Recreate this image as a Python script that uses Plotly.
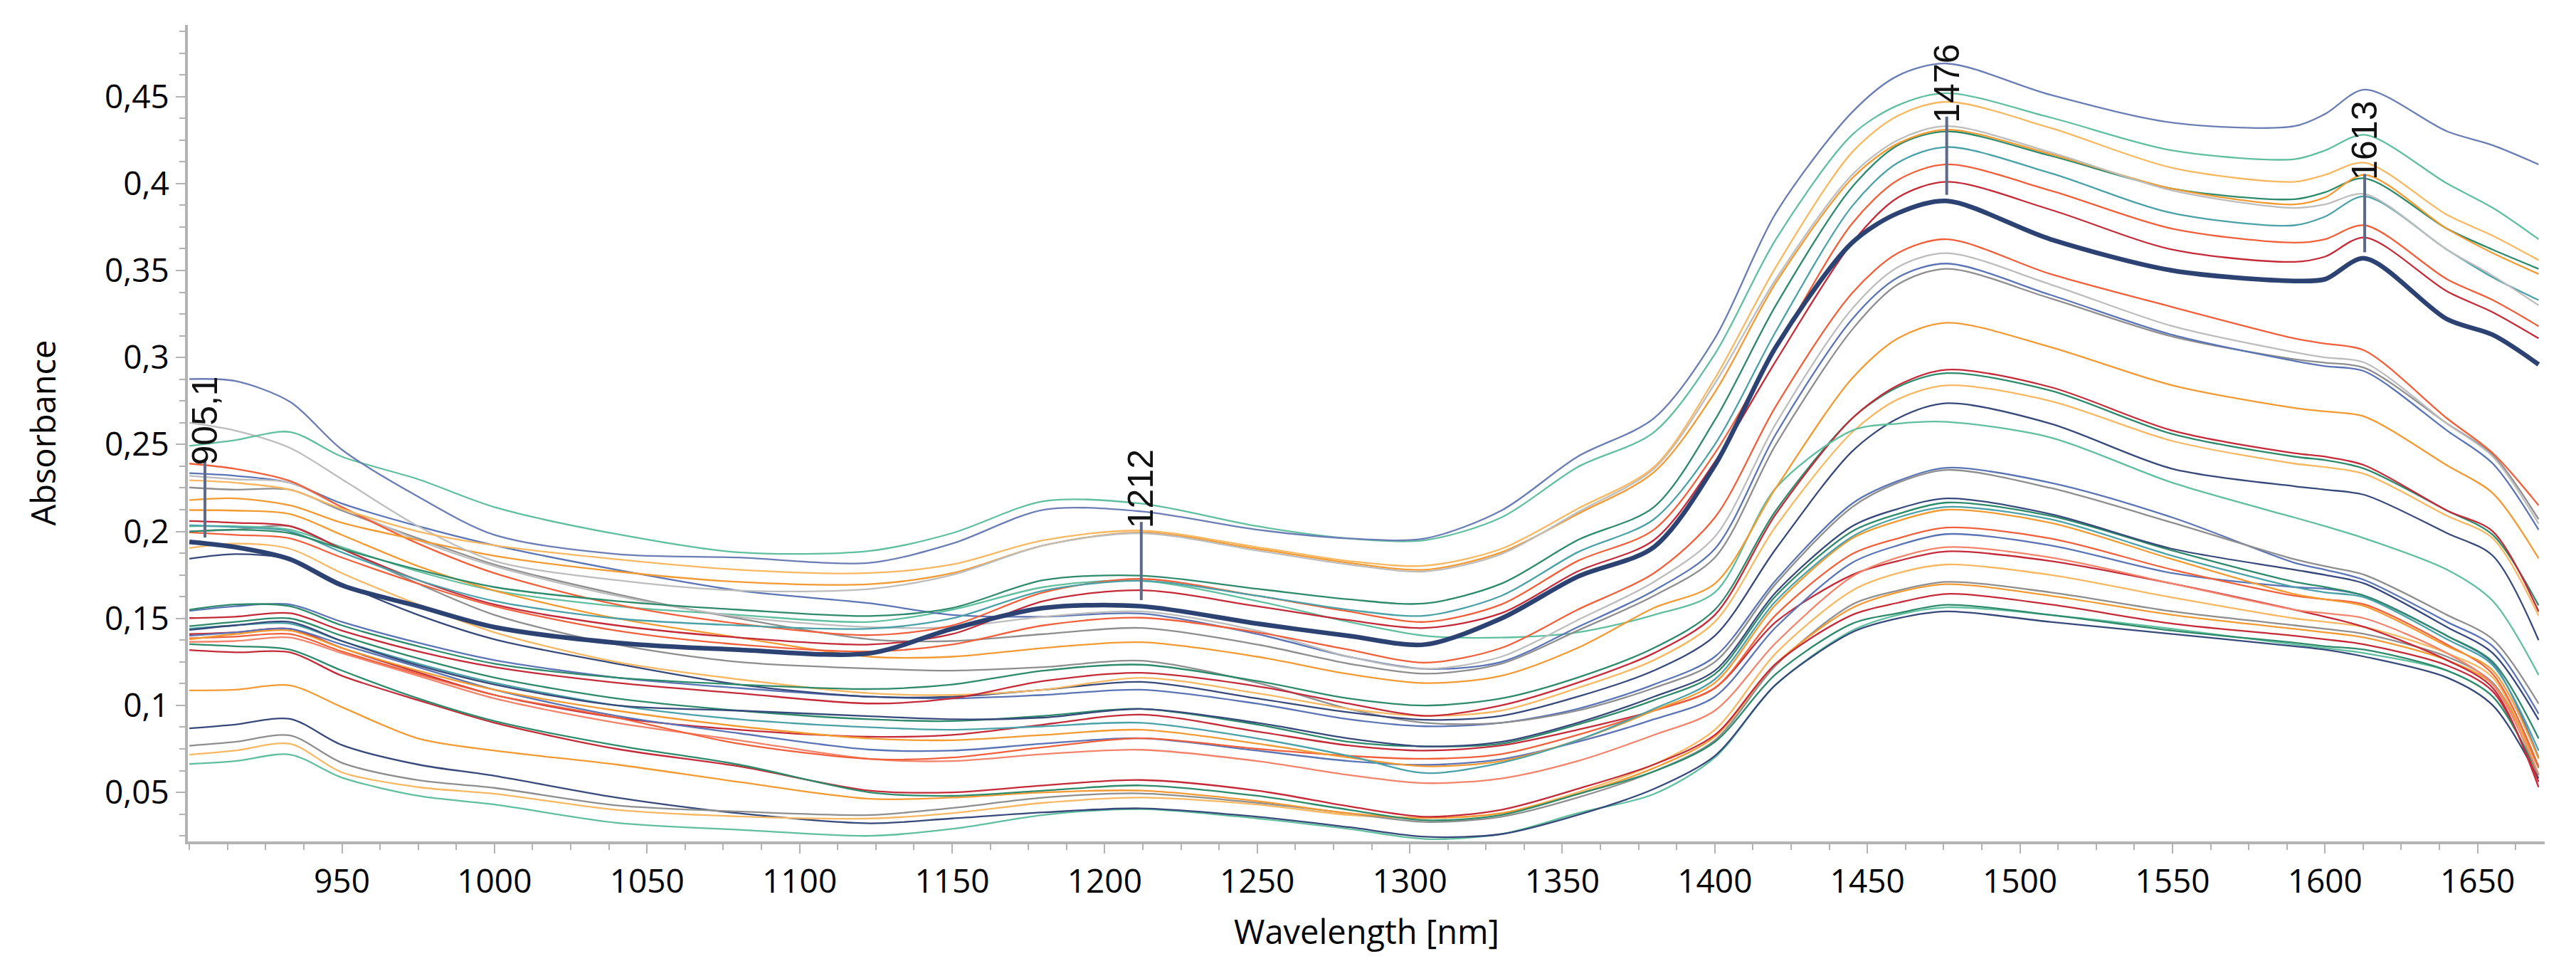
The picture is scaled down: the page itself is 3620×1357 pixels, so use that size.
import numpy as np
import plotly.graph_objects as go

# ---------------- data ----------------
WAVELENGTH_NM = [900, 915, 933, 950, 975, 1000, 1040, 1080, 1123, 1150, 1180, 1212, 1250, 1280, 1305,
                 1330, 1355, 1380, 1400, 1420, 1445, 1460, 1476, 1510, 1550, 1590, 1600, 1613, 1640, 1655, 1670]

# upper spectra (band at 1613 nm)
U1 = [0.2876, 0.2865, 0.2745, 0.247, 0.220, 0.198, 0.187, 0.185, 0.182, 0.193, 0.2125, 0.2115, 0.201, 0.196, 0.196,
      0.212, 0.243, 0.265, 0.311, 0.383, 0.441, 0.462, 0.469, 0.451, 0.435, 0.433, 0.440, 0.454, 0.430, 0.422, 0.411]
U2 = [0.2492, 0.2525, 0.2572, 0.243, 0.230, 0.214, 0.1985, 0.188, 0.1888, 0.199, 0.2174, 0.216, 0.203, 0.196, 0.195,
      0.208, 0.237, 0.257, 0.302, 0.368, 0.428, 0.445, 0.452, 0.438, 0.419, 0.414, 0.419, 0.428, 0.400, 0.386, 0.368]
U3 = [0.2294, 0.228, 0.224, 0.213, 0.200, 0.192, 0.184, 0.178, 0.1761, 0.181, 0.195, 0.2005, 0.191, 0.183, 0.1803,
      0.19, 0.213, 0.237, 0.288, 0.352, 0.418, 0.439, 0.447, 0.432, 0.409, 0.401, 0.405, 0.412, 0.382, 0.370, 0.356]
U4 = [0.2625, 0.258, 0.248, 0.230, 0.203, 0.183, 0.172, 0.166, 0.1669, 0.175, 0.192, 0.199, 0.189, 0.181, 0.177,
      0.187, 0.211, 0.236, 0.285, 0.345, 0.405, 0.425, 0.433, 0.418, 0.396, 0.386, 0.388, 0.394, 0.362, 0.347, 0.330]
U5 = [0.200, 0.201, 0.199, 0.190, 0.178, 0.168, 0.160, 0.155, 0.1514, 0.156, 0.172, 0.1746, 0.167, 0.161, 0.1586,
      0.17, 0.195, 0.214, 0.264, 0.33, 0.398, 0.422, 0.430, 0.416, 0.397, 0.391, 0.395, 0.403, 0.374, 0.362, 0.351]
U6 = [0.2035, 0.2025, 0.200, 0.188, 0.172, 0.160, 0.150, 0.146, 0.1441, 0.150, 0.166, 0.1716, 0.163, 0.155, 0.1516,
      0.163, 0.188, 0.207, 0.250, 0.315, 0.387, 0.412, 0.421, 0.406, 0.383, 0.376, 0.381, 0.3926, 0.362, 0.346, 0.333]
U7 = [0.239, 0.236, 0.229, 0.214, 0.193, 0.176, 0.158, 0.147, 0.1404, 0.146, 0.165, 0.1727, 0.163, 0.154, 0.148,
      0.158, 0.183, 0.201, 0.245, 0.305, 0.377, 0.402, 0.411, 0.396, 0.374, 0.366, 0.368, 0.376, 0.345, 0.333, 0.318]
U8 = [0.206, 0.205, 0.203, 0.190, 0.172, 0.158, 0.146, 0.139, 0.135, 0.141, 0.160, 0.1662, 0.157, 0.149, 0.1445,
      0.153, 0.177, 0.195, 0.240, 0.298, 0.366, 0.392, 0.401, 0.385, 0.362, 0.355, 0.358, 0.369, 0.338, 0.326, 0.311]
U10 = [0.218, 0.219, 0.215, 0.205, 0.195, 0.186, 0.177, 0.171, 0.1697, 0.176, 0.192, 0.1995, 0.190, 0.182, 0.178,
       0.188, 0.21, 0.234, 0.280, 0.343, 0.403, 0.423, 0.431, 0.417, 0.397, 0.388, 0.392, 0.405, 0.374, 0.360, 0.348]
# highlighted (bold) spectrum
BOLD = [0.194, 0.191, 0.184, 0.169, 0.157, 0.145, 0.136, 0.132, 0.130, 0.144, 0.156, 0.157, 0.147, 0.140, 0.135,
        0.150, 0.174, 0.191, 0.238, 0.306, 0.366, 0.383, 0.390, 0.368, 0.350, 0.344, 0.345, 0.357, 0.322, 0.313, 0.296]

# middle spectra
M1 = [0.1995, 0.198, 0.196, 0.185, 0.170, 0.157, 0.143, 0.135, 0.131, 0.135, 0.146, 0.1504, 0.142, 0.132, 0.1246,
      0.133, 0.155, 0.176, 0.208, 0.272, 0.337, 0.360, 0.368, 0.348, 0.329, 0.311, 0.308, 0.304, 0.265, 0.245, 0.215]
M2 = [0.232, 0.230, 0.228, 0.214, 0.195, 0.180, 0.163, 0.151, 0.145, 0.145, 0.151, 0.154, 0.143, 0.128, 0.121,
      0.128, 0.149, 0.171, 0.197, 0.262, 0.328, 0.352, 0.360, 0.342, 0.318, 0.303, 0.300, 0.297, 0.262, 0.243, 0.2045]
M3 = [0.2335, 0.232, 0.228, 0.216, 0.203, 0.192, 0.178, 0.166, 0.1587, 0.152, 0.151, 0.1528, 0.141, 0.128, 0.121,
      0.125, 0.145, 0.166, 0.190, 0.256, 0.322, 0.346, 0.354, 0.336, 0.313, 0.298, 0.295, 0.292, 0.258, 0.239, 0.201]
M4 = [0.2253, 0.224, 0.224, 0.212, 0.196, 0.181, 0.164, 0.150, 0.138, 0.137, 0.141, 0.1445, 0.135, 0.124, 0.1182,
      0.124, 0.143, 0.163, 0.185, 0.250, 0.316, 0.342, 0.351, 0.334, 0.312, 0.299, 0.297, 0.294, 0.262, 0.244, 0.207]
M5 = [0.2123, 0.212, 0.210, 0.198, 0.180, 0.166, 0.150, 0.139, 0.128, 0.128, 0.133, 0.1363, 0.128, 0.118, 0.1128,
      0.117, 0.133, 0.156, 0.170, 0.225, 0.288, 0.311, 0.320, 0.306, 0.284, 0.271, 0.269, 0.266, 0.238, 0.222, 0.1845]
T1 = [0.203, 0.203, 0.201, 0.191, 0.177, 0.166, 0.157, 0.152, 0.148, 0.155, 0.168, 0.1716, 0.160, 0.148, 0.140,
      0.139, 0.142, 0.152, 0.165, 0.225, 0.258, 0.262, 0.263, 0.254, 0.228, 0.208, 0.203, 0.196, 0.178, 0.160, 0.1175]

# lower spectra
L1 = [0.1502, 0.151, 0.153, 0.143, 0.131, 0.122, 0.113, 0.107, 0.1011, 0.104, 0.114, 0.1187, 0.111, 0.101, 0.094,
      0.1, 0.113, 0.13, 0.152, 0.21, 0.265, 0.284, 0.293, 0.283, 0.258, 0.245, 0.243, 0.238, 0.212, 0.200, 0.154]
L2 = [0.155, 0.158, 0.157, 0.146, 0.134, 0.124, 0.116, 0.112, 0.1094, 0.112, 0.12, 0.1234, 0.114, 0.104, 0.0999,
      0.104, 0.116, 0.133, 0.155, 0.212, 0.265, 0.283, 0.291, 0.281, 0.256, 0.243, 0.241, 0.236, 0.212, 0.198, 0.1575]
L3 = [0.1905, 0.193, 0.19, 0.176, 0.158, 0.142, 0.125, 0.115, 0.107, 0.106, 0.109, 0.1159, 0.107, 0.098, 0.094,
      0.097, 0.11, 0.126, 0.148, 0.203, 0.257, 0.276, 0.284, 0.275, 0.252, 0.239, 0.237, 0.233, 0.209, 0.196, 0.1516]
L4 = [0.1843, 0.187, 0.184, 0.170, 0.152, 0.138, 0.124, 0.112, 0.105, 0.105, 0.109, 0.1135, 0.104, 0.096, 0.0917,
      0.094, 0.105, 0.12, 0.14, 0.19, 0.246, 0.265, 0.2737, 0.262, 0.236, 0.226, 0.224, 0.221, 0.199, 0.186, 0.1375]
L5 = [0.200, 0.201, 0.203, 0.190, 0.170, 0.152, 0.135, 0.125, 0.1212, 0.12, 0.122, 0.1257, 0.113, 0.098, 0.090,
      0.09, 0.097, 0.11, 0.125, 0.17, 0.214, 0.228, 0.2354, 0.225, 0.205, 0.184, 0.180, 0.175, 0.152, 0.138, 0.101]
L6 = [0.1543, 0.157, 0.158, 0.148, 0.136, 0.126, 0.116, 0.11, 0.105, 0.104, 0.106, 0.109, 0.101, 0.092, 0.088,
      0.09, 0.098, 0.112, 0.128, 0.172, 0.216, 0.229, 0.2366, 0.228, 0.208, 0.182, 0.178, 0.172, 0.148, 0.134, 0.0952]
ML1 = [0.1434, 0.146, 0.148, 0.137, 0.123, 0.112, 0.1, 0.097, 0.0938, 0.092, 0.093, 0.098, 0.09, 0.081, 0.0764,
       0.079, 0.09, 0.105, 0.12, 0.165, 0.203, 0.213, 0.219, 0.21, 0.19, 0.178, 0.175, 0.17, 0.145, 0.130, 0.0917]
ML2 = [0.1455, 0.148, 0.15, 0.14, 0.127, 0.116, 0.104, 0.097, 0.092, 0.091, 0.094, 0.098, 0.089, 0.079, 0.0764,
       0.078, 0.089, 0.103, 0.118, 0.163, 0.2, 0.21, 0.2166, 0.209, 0.189, 0.171, 0.168, 0.163, 0.14, 0.125, 0.081]
ML3 = [0.1441, 0.146, 0.147, 0.137, 0.124, 0.113, 0.1, 0.092, 0.0874, 0.086, 0.088, 0.09, 0.081, 0.071, 0.0611,
       0.067, 0.08, 0.098, 0.115, 0.16, 0.197, 0.208, 0.2141, 0.207, 0.186, 0.168, 0.165, 0.162, 0.138, 0.123, 0.074]
ML4 = [0.138, 0.141, 0.143, 0.133, 0.12, 0.109, 0.097, 0.088, 0.081, 0.08, 0.083, 0.086, 0.078, 0.07, 0.065,
       0.068, 0.08, 0.097, 0.113, 0.158, 0.196, 0.206, 0.2125, 0.205, 0.184, 0.164, 0.161, 0.157, 0.134, 0.12, 0.0694]
ML5 = [0.1386, 0.1395, 0.141, 0.131, 0.118, 0.106, 0.093, 0.078, 0.0692, 0.07, 0.076, 0.0811, 0.075, 0.071, 0.0693,
       0.072, 0.083, 0.097, 0.11, 0.152, 0.187, 0.196, 0.2022, 0.196, 0.178, 0.163, 0.161, 0.158, 0.135, 0.118, 0.0647]
ML6 = [0.140, 0.142, 0.144, 0.135, 0.122, 0.109, 0.094, 0.084, 0.0746, 0.074, 0.078, 0.0811, 0.074, 0.068, 0.0658,
       0.069, 0.079, 0.092, 0.105, 0.145, 0.182, 0.192, 0.1985, 0.192, 0.176, 0.168, 0.167, 0.163, 0.14, 0.124, 0.07]
ML7 = [0.1365, 0.137, 0.139, 0.13, 0.117, 0.104, 0.09, 0.08, 0.0692, 0.068, 0.072, 0.0745, 0.068, 0.06, 0.0553,
       0.058, 0.068, 0.083, 0.097, 0.136, 0.174, 0.185, 0.191, 0.185, 0.17, 0.155, 0.153, 0.15, 0.13, 0.112, 0.06]
ML8 = [0.141, 0.142, 0.144, 0.133, 0.119, 0.106, 0.093, 0.086, 0.082, 0.083, 0.089, 0.0947, 0.085, 0.077, 0.074,
       0.077, 0.086, 0.097, 0.11, 0.148, 0.175, 0.183, 0.1885, 0.183, 0.17, 0.155, 0.151, 0.145, 0.126, 0.11, 0.053]
LL1 = [0.0768, 0.079, 0.0827, 0.067, 0.057, 0.0526, 0.0425, 0.039, 0.037, 0.041, 0.047, 0.0494, 0.044, 0.038, 0.033,
       0.036, 0.047, 0.062, 0.08, 0.123, 0.158, 0.166, 0.171, 0.165, 0.154, 0.146, 0.144, 0.141, 0.128, 0.113, 0.064]
LL2 = [0.1086, 0.109, 0.1115, 0.099, 0.081, 0.074, 0.066, 0.056, 0.0463, 0.047, 0.05, 0.051, 0.045, 0.038, 0.0353,
       0.038, 0.049, 0.064, 0.082, 0.124, 0.156, 0.165, 0.1697, 0.163, 0.152, 0.144, 0.142, 0.139, 0.126, 0.112, 0.0647]
LL3 = [0.1318, 0.1305, 0.1305, 0.117, 0.103, 0.09, 0.075, 0.065, 0.051, 0.05, 0.054, 0.0571, 0.051, 0.042, 0.036,
       0.04, 0.052, 0.066, 0.083, 0.124, 0.152, 0.159, 0.1641, 0.158, 0.147, 0.14, 0.138, 0.135, 0.123, 0.108, 0.056]
LL4 = [0.1352, 0.134, 0.132, 0.12, 0.104, 0.091, 0.077, 0.066, 0.05, 0.048, 0.051, 0.054, 0.048, 0.04, 0.034,
       0.037, 0.049, 0.062, 0.079, 0.118, 0.147, 0.153, 0.1578, 0.152, 0.143, 0.136, 0.134, 0.132, 0.12, 0.105, 0.06]
LL5 = [0.0663, 0.068, 0.0717, 0.0585, 0.048, 0.043, 0.0325, 0.0285, 0.025, 0.029, 0.037, 0.0404, 0.035, 0.029, 0.0232,
       0.026, 0.038, 0.049, 0.07, 0.112, 0.143, 0.152, 0.1564, 0.152, 0.144, 0.135, 0.133, 0.13, 0.12, 0.105, 0.06]
LL6 = [0.0868, 0.089, 0.0922, 0.0772, 0.066, 0.0595, 0.047, 0.038, 0.0322, 0.035, 0.0385, 0.0408, 0.036, 0.03, 0.0245,
       0.026, 0.037, 0.052, 0.071, 0.112, 0.142, 0.150, 0.154, 0.148, 0.141, 0.134, 0.132, 0.128, 0.116, 0.1, 0.058]
LL7 = [0.0717, 0.074, 0.0779, 0.0615, 0.053, 0.0492, 0.04, 0.0362, 0.035, 0.038, 0.044, 0.047, 0.043, 0.037, 0.0353,
       0.038, 0.05, 0.066, 0.086, 0.13, 0.166, 0.176, 0.181, 0.175, 0.162, 0.15, 0.148, 0.145, 0.13, 0.116, 0.06]

# peak labels marked on the bold spectrum
PEAK_WL = [905.1, 1212, 1476, 1613]
PEAK_LABELS = ["905,1", "1212", "1476", "1613"]

# axis ticks
X_TICKS = [950, 1000, 1050, 1100, 1150, 1200, 1250, 1300, 1350, 1400, 1450, 1500, 1550, 1600, 1650]
X_TICK_LABELS = ["950", "1000", "1050", "1100", "1150", "1200", "1250", "1300", "1350", "1400",
                 "1450", "1500", "1550", "1600", "1650"]
Y_TICKS = [0.05, 0.1, 0.15, 0.2, 0.25, 0.3, 0.35, 0.4, 0.45]
Y_TICK_LABELS = ["0,05", "0,1", "0,15", "0,2", "0,25", "0,3", "0,35", "0,4", "0,45"]
X_TITLE = "Wavelength [nm]"
Y_TITLE = "Absorbance"

# ---------------- styles ----------------
SLATE = "#6a7db5"; TEALG = "#5fbf9f"; LORANGE = "#f8b862"; LGRAY = "#bdbdbd"; DGREEN = "#2d8a6a"
TEAL = "#4aa2a8"; REDOR = "#f1603a"; RED = "#c42a38"; ORANGE = "#f39a32"; GRAY = "#8e8e8e"
NAVY = "#36497a"; BLUE = "#5b74b5"; SALMON = "#f3836a"; BOLD_C = "#2b4272"

SERIES = [
    (LL5, TEALG), (LL6, NAVY), (LL7, LORANGE), (LL1, GRAY), (LL2, ORANGE), (LL3, RED), (LL4, DGREEN),
    (ML8, RED), (ML7, SALMON), (ML6, BLUE), (ML5, REDOR), (ML4, ORANGE), (ML3, TEAL), (ML2, DGREEN),
    (ML1, NAVY), (L6, BLUE), (L5, GRAY), (L4, NAVY), (L3, LORANGE), (L2, DGREEN), (L1, RED),
    (T1, TEALG), (M5, ORANGE), (M4, GRAY), (M3, BLUE), (M2, LGRAY), (M1, REDOR),
    (U8, RED), (U7, REDOR), (U6, TEAL), (U5, DGREEN), (U10, ORANGE), (U4, LGRAY), (U3, LORANGE),
    (U2, TEALG), (U1, SLATE),
]

FONT = "Open Sans, Noto Sans, sans-serif"
AXIS_GRAY = "#b3b3b3"
SMOOTH = 0.85

fig = go.Figure()
for vals, col in SERIES:
    fig.add_trace(go.Scatter(x=WAVELENGTH_NM, y=vals, mode="lines",
                             line=dict(color=col, width=2.3, shape="spline", smoothing=SMOOTH),
                             showlegend=False, hoverinfo="skip"))
fig.add_trace(go.Scatter(x=WAVELENGTH_NM, y=BOLD, mode="lines",
                         line=dict(color=BOLD_C, width=6.5, shape="spline", smoothing=SMOOTH),
                         showlegend=False, hoverinfo="skip"))

# peak markers: a short vertical line above the bold spectrum plus a rotated label
LINE_GAP = 0.0035
LINE_LEN = 0.045
for wl, lab in zip(PEAK_WL, PEAK_LABELS):
    yv = float(np.interp(wl, WAVELENGTH_NM, BOLD))
    y0 = yv + LINE_GAP
    y1 = y0 + LINE_LEN
    fig.add_shape(type="line", xref="x", yref="y", x0=wl, x1=wl, y0=y0, y1=y1,
                  line=dict(color="#5d6a88", width=4))
    fig.add_annotation(x=wl, y=y1 - 0.004, xref="x", yref="y", text=lab, textangle=-90,
                       showarrow=False, xanchor="center", yanchor="bottom",
                       font=dict(family="Liberation Sans, Arial, sans-serif", size=50, color="#111111"),
                       borderpad=0)

W, H = 3620, 1357
L_M, R_M, T_M, B_M = 256, 52, 27, 183
plot_w = W - L_M - R_M
plot_h = H - T_M - B_M

fig.add_annotation(text=X_TITLE, xref="paper", yref="paper", x=0.5, y=(0 - (1300 - (H - B_M)) / plot_h),
                   showarrow=False, xanchor="center", yanchor="middle",
                   font=dict(family=FONT, size=47, color="#000000"))
fig.add_annotation(text=Y_TITLE, xref="paper", yref="paper", x=(51 - L_M) / plot_w, y=0.5,
                   showarrow=False, xanchor="center", yanchor="middle", textangle=-90,
                   font=dict(family=FONT, size=47, color="#000000"))

fig.update_layout(
    width=W, height=H,
    margin=dict(l=L_M, r=R_M, t=T_M, b=B_M, autoexpand=False),
    paper_bgcolor="white", plot_bgcolor="white",
    font=dict(family=FONT, size=46, color="#000000"),
)
fig.update_xaxes(range=[899.5, 1672], tickmode="array", tickvals=X_TICKS, ticktext=X_TICK_LABELS,
                 ticks="outside", ticklen=13, tickwidth=2, tickcolor=AXIS_GRAY,
                 showline=True, linecolor=AXIS_GRAY, linewidth=4, showgrid=False, zeroline=False,
                 tickfont=dict(family=FONT, size=46, color="#000000"), automargin=False,
                 minor=dict(tickmode="linear", tick0=900, dtick=12.5, ticks="outside", ticklen=8,
                            tickwidth=2, tickcolor=AXIS_GRAY, showgrid=False))
fig.update_yaxes(range=[0.0218, 0.4912], tickmode="array", tickvals=Y_TICKS, ticktext=Y_TICK_LABELS,
                 ticks="outside", ticklen=13, tickwidth=2, tickcolor=AXIS_GRAY,
                 showline=True, linecolor=AXIS_GRAY, linewidth=4, showgrid=False, zeroline=False,
                 tickfont=dict(family=FONT, size=46, color="#000000"), automargin=False,
                 minor=dict(tickmode="linear", tick0=0, dtick=0.0125, ticks="outside", ticklen=8,
                            tickwidth=2, tickcolor=AXIS_GRAY, showgrid=False))

fig.write_html("out.html")
